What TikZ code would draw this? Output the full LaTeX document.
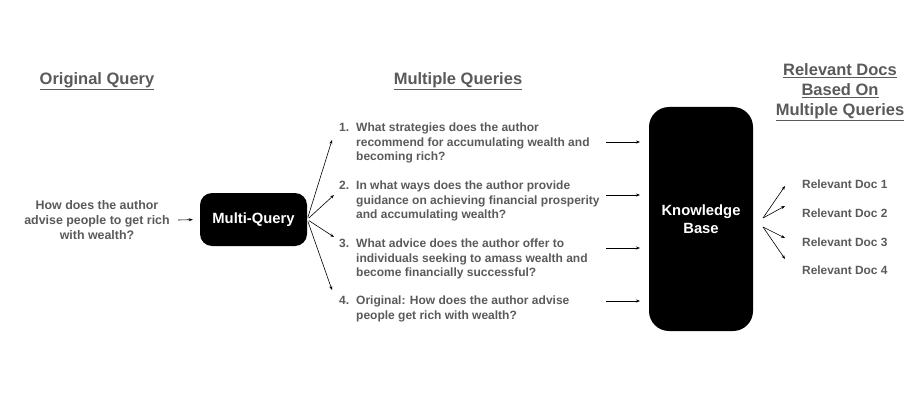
\documentclass[tikz,border=0pt]{standalone}
\usepackage{fontspec}
\setmainfont{Liberation Sans}
\usetikzlibrary{arrows.meta}
\definecolor{txtgray}{HTML}{5A5A5A}
\newcommand{\nm}[1]{\makebox[17pt][l]{#1}}
\newcommand{\ind}{\hspace*{17pt}}
\tikzset{
  heading/.style={font=\bfseries\fontsize{16.5}{20}\selectfont, text=txtgray, align=center, inner sep=0pt},
  qtext/.style={font=\bfseries\fontsize{12}{14.5}\selectfont, text=txtgray, align=left, inner sep=0pt, anchor=north west},
  otext/.style={font=\bfseries\fontsize{12.4}{15}\selectfont, text=txtgray, align=center, inner sep=0pt},
  doctext/.style={font=\bfseries\fontsize{11.9}{13}\selectfont, text=txtgray, inner sep=0pt, anchor=west},
  blackbox/.style={fill=black, draw=none, text=white, font=\bfseries\fontsize{14.8}{18}\selectfont, align=center},
  arr/.style={line width=0.6pt, -{Stealth[length=4pt,width=3pt]}}
}
\begin{document}
\begin{tikzpicture}[x=1pt,y=-1pt]
\useasboundingbox (0,0) rectangle (912,409);
% headings
\node[heading] (h1) at (97,81) {\underline{Original Query}};
\node[heading] (h2) at (458,81) {\underline{Multiple Queries}};
\node[heading] (h3) at (840,92) {\underline{Relevant Docs}\\\underline{Based On}\\\underline{Multiple Queries}};
% original query
\node[otext] (oq) at (97,220) {How does the author\\advise people to get rich\\with wealth?};
% multi-query box
\node[blackbox, minimum width=107pt, minimum height=53pt, rounded corners=12pt] (mq) at (253.5,219.5) {Multi-Query};
\coordinate (oqe) at (178,220);
\draw[arr, shorten >=7pt] (oqe) -- (mq.west);
% queries
\node[qtext] (q1) at (339,123) {\nm{1.}What strategies does the author\\\ind recommend for accumulating wealth and\\\ind becoming rich?};
\node[qtext] (q2) at (339,181) {\nm{2.}In what ways does the author provide\\\ind guidance on achieving financial prosperity\\\ind and accumulating wealth?};
\node[qtext] (q3) at (339,239) {\nm{3.}What advice does the author offer to\\\ind individuals seeking to amass wealth and\\\ind become financially successful?};
\node[qtext] (q4) at (339,296) {\nm{4.}Original: How does the author advise\\\ind people get rich with wealth?};
% fan arrows
\coordinate (f1) at (332,140);
\coordinate (f2) at (334,195);
\coordinate (f3) at (334,237);
\coordinate (f4) at (332,290);
\draw[arr, shorten <=2pt] (mq.east) -- (f1);
\draw[arr, shorten <=2pt] (mq.east) -- (f2);
\draw[arr, shorten <=2pt] (mq.east) -- (f3);
\draw[arr, shorten <=2pt] (mq.east) -- (f4);
% knowledge base
\node[blackbox, minimum width=104pt, minimum height=224pt, rounded corners=20pt] (kb) at (701,219) {Knowledge\\Base};
\foreach \i/\y in {1/142,2/195,3/248,4/301}{
  \coordinate (ks\i) at (606,\y);
  \coordinate (ke\i) at (640,\y);
  \draw[arr] (ks\i) -- (ke\i);
}
% docs
\node[doctext] (d1) at (802,184) {Relevant Doc 1};
\node[doctext] (d2) at (802,213) {Relevant Doc 2};
\node[doctext] (d3) at (802,242) {Relevant Doc 3};
\node[doctext] (d4) at (802,270) {Relevant Doc 4};
\coordinate (ds1) at (763,218);
\coordinate (ds2) at (763,227);
\coordinate (de1) at (785,186);
\coordinate (de2) at (785,206);
\coordinate (de3) at (785,238);
\coordinate (de4) at (785,259);
\draw[arr] (ds1) -- (de1);
\draw[arr] (ds1) -- (de2);
\draw[arr] (ds2) -- (de3);
\draw[arr] (ds2) -- (de4);
\end{tikzpicture}
\end{document}
